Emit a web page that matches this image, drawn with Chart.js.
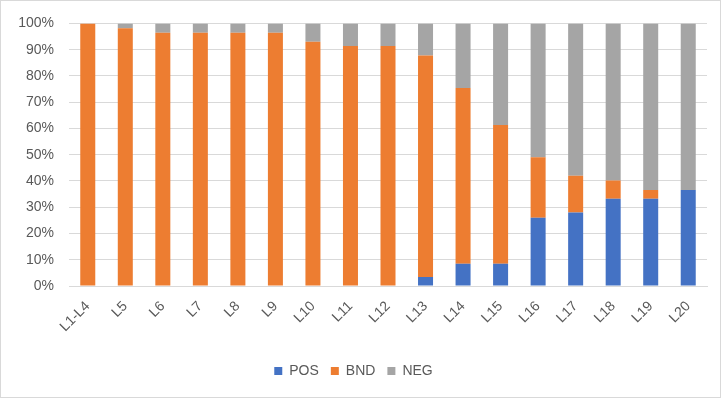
<!DOCTYPE html>
<html><head><meta charset="utf-8">
<script src="https://cdn.jsdelivr.net/npm/chart.js@4/dist/chart.umd.min.js"></script>
<style>html,body{margin:0;padding:0;background:#fff}#wrap{width:721px;height:398px;position:relative}</style>
</head><body><div id="wrap"><canvas id="c" width="721" height="398"></canvas></div>
<script>
const categories = ["L1-L4","L5","L6","L7","L8","L9","L10","L11","L12","L13","L14","L15","L16","L17","L18","L19","L20"];
const posValues = [0,0,0,0,0,0,0,0,0,3.4,8.5,8.5,26.0,28.0,33.2,33.2,36.6];
const bndValues = [100,98.2,96.4,96.4,96.4,96.4,93.0,91.4,91.4,84.4,66.9,52.8,23.0,14.0,7.0,3.4,0];
const negValues = [0,1.8,3.6,3.6,3.6,3.6,7.0,8.6,8.6,12.2,24.6,38.7,51.0,58.0,59.8,63.4,63.4];
const yTicks = [0,10,20,30,40,50,60,70,80,90,100];

const FONT = "'Liberation Sans', Arial, sans-serif";
const borderPlugin = {
  id: 'border',
  afterDraw(chart) {
    const ctx = chart.ctx;
    ctx.save();
    ctx.strokeStyle = '#d9d9d9';
    ctx.lineWidth = 1;
    ctx.strokeRect(0.5, 0.5, chart.width - 1, chart.height - 1);
    ctx.restore();
  }
};

new Chart(document.getElementById('c'), {
  type: 'bar',
  data: {
    labels: categories,
    datasets: [
      { label: 'POS', data: posValues, backgroundColor: '#4472c4' },
      { label: 'BND', data: bndValues, backgroundColor: '#ed7d31' },
      { label: 'NEG', data: negValues, backgroundColor: '#a5a5a5' }
    ]
  },
  options: {
    responsive: false,
    animation: false,
    devicePixelRatio: 1,
    layout: { padding: { left: 0, right: 14, top: 14, bottom: 10 } },
    datasets: { bar: { categoryPercentage: 0.8, barPercentage: 0.5 } },
    plugins: {
      legend: {
        position: 'bottom',
        labels: { boxWidth: 8, boxHeight: 8, padding: 12, color: '#595959', font: { family: FONT, size: 14 } }
      },
      tooltip: { enabled: false }
    },
    scales: {
      x: {
        stacked: true,
        grid: { display: false, drawTicks: false },
        border: { display: true, color: '#d9d9d9' },
        ticks: { color: '#595959', font: { family: FONT, size: 14 }, minRotation: 45, maxRotation: 45, padding: 12, autoSkip: false },
        afterFit(scale) { scale.height = 66; }
      },
      y: {
        stacked: true,
        min: 0, max: 100,
        afterBuildTicks(scale) { scale.ticks = yTicks.map(v => ({ value: v })); },
        grid: { color: '#d9d9d9', drawTicks: false },
        border: { display: false },
        ticks: { color: '#595959', font: { family: FONT, size: 14 }, padding: 15, callback: v => v + '%' },
        afterFit(scale) { scale.width = 69; }
      }
    }
  },
  plugins: [borderPlugin]
});
</script></body></html>
